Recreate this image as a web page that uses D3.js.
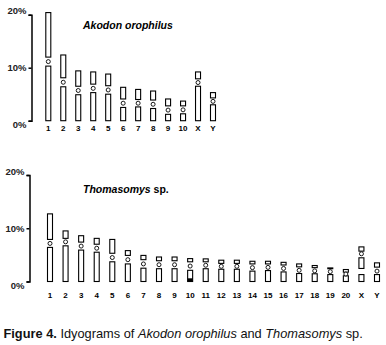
<!DOCTYPE html>
<html>
<head>
<meta charset="utf-8">
<script src="https://cdn.jsdelivr.net/npm/d3@7"></script>
<style>
  body { margin: 0; background: #fff; }
  text { font-family: "Liberation Sans", Arial, sans-serif; }
</style>
</head>
<body>
<div id="canvas"></div>
<script>
"use strict"

/* Canvas size */
let svgWidth = 386;
let svgHeight = 345;

/* Akodon orophilus: chromosome names, arm segments [from, to] in % and centromere position */
let akodonLabels = ["1", "2", "3", "4", "5", "6", "7", "8", "9", "10", "X", "Y"];
let akodonSegments = [
    [[0, 10.3], [12.0, 20.4]],
    [[0, 6.4], [8.1, 12.4]],
    [[0, 4.9], [6.5, 9.4]],
    [[0, 5.3], [6.9, 9.2]],
    [[0, 5.0], [6.6, 8.8]],
    [[0, 2.5], [4.1, 6.3]],
    [[0, 2.6], [4.0, 5.9]],
    [[0, 2.3], [3.9, 5.6]],
    [[0, 1.2], [2.8, 4.1]],
    [[0, 1.3], [2.8, 3.7]],
    [[0, 6.5], [7.9, 9.2]],
    [[0, 3.0], [4.3, 5.3]]
];
let akodonCentromere = [11.15, 7.25, 5.7, 6.1, 5.8, 3.3, 3.3, 3.1, 2.0, 2.05, 7.2, 3.65];

/* Thomasomys sp. */
let thomasomysLabels = ["1", "2", "3", "4", "5", "6", "7", "8", "9", "10", "11", "12",
    "13", "14", "15", "16", "17", "18", "19", "20", "X", "Y"];
let thomasomysSegments = [
    [[0, 6.4], [7.9, 12.7]],
    [[0, 6.7], [8.1, 9.5]],
    [[0, 5.9], [7.4, 8.6]],
    [[0, 5.5], [7.0, 8.1]],
    [[0, 3.7], [5.3, 7.9]],
    [[0, 3.3], [4.9, 5.8]],
    [[0, 2.5], [4.1, 4.9]],
    [[0, 2.4], [3.9, 4.6]],
    [[0, 2.4], [3.9, 4.6]],
    [[0, 2.1], [3.7, 4.3]],
    [[0, 2.4], [3.7, 4.25]],
    [[0, 2.3], [3.4, 4.0]],
    [[0, 2.3], [3.4, 4.0]],
    [[0, 1.95], [3.3, 3.8]],
    [[0, 2.05], [3.3, 3.8]],
    [[0, 1.8], [3.1, 3.6]],
    [[0, 1.5], [2.75, 3.3]],
    [[0, 1.45], [2.6, 3.0]],
    [[0, 1.3], [2.4, 2.55]],
    [[0, 1.07], [1.75, 2.25]],
    [[0, 1.3], [2.45, 4.45], [5.7, 6.5]],
    [[0, 1.3], [2.7, 3.5]]
];
let thomasomysCentromere = [7.15, 7.45, 6.65, 6.25, 4.5, 4.1, 3.3, 3.15, 3.15, 2.9, 3.05, 2.85,
    2.85, 2.6, 2.65, 2.45, 2.1, 2.0, 1.85, 1.4, 5.2, 1.95];
/* dark band at the base of chromosome 10 */
let thomasomysBands = [{ chrom: "10", from: 0, to: 0.6 }];

/* Tick values of the y axis */
let yTicks = [0, 10, 20];

let svg = d3.select("#canvas")
    .append("svg")
    .attr("width", svgWidth)
    .attr("height", svgHeight);

svg.append("rect")
    .attr("width", svgWidth)
    .attr("height", svgHeight)
    .attr("fill", "white");

/* Draws one idiogram panel */
function drawPanel(p) {
    let yScale = d3.scaleLinear()
        .domain([0, 20])
        .range([p.yZero, p.yTop]);

    let xScale = d3.scalePoint()
        .domain(p.labels)
        .range([p.xFirst, p.xLast]);

    let barWidth = 5;

    /* y axis, bracket shaped */
    let axis = svg.append("g")
        .attr("transform", "translate(" + p.axisX + ",0)")
        .call(d3.axisLeft(yScale)
            .tickValues(yTicks)
            .tickSizeInner(3)
            .tickSizeOuter(3)
            .tickPadding(2)
            .tickFormat(function (d) { return d + "%"; }));
    axis.selectAll("path, line")
        .attr("stroke", "black")
        .attr("stroke-width", 1.5);
    axis.selectAll("text")
        .style("font-family", "Liberation Sans, Arial, sans-serif")
        .style("font-size", "9.5px")
        .style("font-weight", "bold")
        .attr("fill", "#222")
        .attr("dy", function (d) { return (0.32 - (d - 10) * 0.04) + "em"; });

    /* chromosome arms */
    p.labels.forEach(function (name, i) {
        let cx = xScale(name);
        p.segments[i].forEach(function (seg) {
            svg.append("rect")
                .attr("x", cx - barWidth / 2)
                .attr("y", yScale(seg[1]))
                .attr("width", barWidth)
                .attr("height", yScale(seg[0]) - yScale(seg[1]))
                .attr("fill", "white")
                .attr("stroke", "black")
                .attr("stroke-width", 1.1);
        });

        /* centromere */
        svg.append("circle")
            .attr("cx", cx)
            .attr("cy", yScale(p.centromere[i]))
            .attr("r", 2)
            .attr("fill", "white")
            .attr("stroke", "black")
            .attr("stroke-width", 0.9);

        svg.append("text")
            .attr("x", cx)
            .attr("y", p.labelY)
            .attr("fill", "black")
            .style("text-anchor", "middle")
            .style("font-size", "8px")
            .style("font-weight", "bold")
            .text(name);
    });

    /* heterochromatic bands */
    p.bands.forEach(function (b) {
        svg.append("rect")
            .attr("x", xScale(b.chrom) - barWidth / 2)
            .attr("y", yScale(b.to))
            .attr("width", barWidth)
            .attr("height", yScale(b.from) - yScale(b.to))
            .attr("fill", "black");
    });

    /* species name */
    let title = svg.append("text")
        .attr("x", 83)
        .attr("y", p.titleY)
        .attr("fill", "black")
        .style("font-size", "10.5px")
        .style("font-weight", "bold");
    title.append("tspan")
        .style("font-style", "italic")
        .text(p.genus);
    if (p.suffix) {
        title.append("tspan").text(p.suffix);
    }
}

drawPanel({
    labels: akodonLabels,
    segments: akodonSegments,
    centromere: akodonCentromere,
    bands: [],
    yZero: 120.7,
    yTop: 14.7,
    axisX: 31.5,
    xFirst: 48.3,
    xLast: 213,
    labelY: 130.7,
    titleY: 29,
    genus: "Akodon orophilus",
    suffix: ""
});

drawPanel({
    labels: thomasomysLabels,
    segments: thomasomysSegments,
    centromere: thomasomysCentromere,
    bands: thomasomysBands,
    yZero: 281.5,
    yTop: 175,
    axisX: 29.5,
    xFirst: 50,
    xLast: 377,
    labelY: 298,
    titleY: 193,
    genus: "Thomasomys",
    suffix: " sp."
});

/* Figure caption */
let caption = svg.append("text")
    .attr("x", 3.5)
    .attr("y", 337.5)
    .attr("fill", "#111")
    .style("font-size", "12.8px");
caption.append("tspan").style("font-weight", "bold").text("Figure 4.");
caption.append("tspan").text(" Idyograms of ");
caption.append("tspan").style("font-style", "italic").text("Akodon orophilus");
caption.append("tspan").text(" and ");
caption.append("tspan").style("font-style", "italic").text("Thomasomys");
caption.append("tspan").text(" sp.");
</script>
</body>
</html>
